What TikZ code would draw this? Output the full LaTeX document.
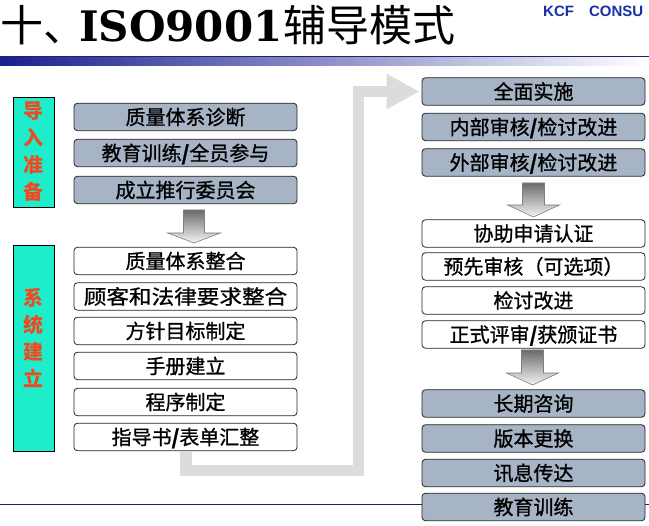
\documentclass[tikz,border=0pt]{standalone}
\usepackage{graphicx}
\usepackage{fontspec}
\setmainfont{Noto Sans CJK SC}
\newfontfamily\boxfont[FakeBold=0.9]{Noto Sans CJK SC}
\newfontfamily\isofont{DejaVu Serif}
\newfontfamily\kcffont{Liberation Sans}
\usetikzlibrary{arrows.meta,calc}
\definecolor{boxgray}{HTML}{A6B4C5}
\definecolor{aquabox}{HTML}{1EEDCB}
\definecolor{lblred}{HTML}{EE4A22}
\definecolor{navyline}{HTML}{1C2470}
\definecolor{barblue}{HTML}{1A1F90}
\definecolor{kcfblue}{HTML}{1B2FA5}
\definecolor{arrgray}{HTML}{DCDCDC}
\tikzset{
  stepbox/.style={draw=black!85, line width=0.8pt, rounded corners=3.5pt,
    minimum width=223pt, minimum height=27.5pt, inner sep=0pt,
    text height=16.6pt, text depth=1.4pt, font=\boxfont\fontsize{20}{24}\selectfont},
  graybox/.style={stepbox, fill=boxgray},
  whitebox/.style={stepbox, fill=white},
  sidebox/.style={draw=black, line width=0.8pt, fill=aquabox, minimum width=41pt, inner sep=0pt},
  sidelabel/.style={text=lblred, font=\fontsize{20}{27}\selectfont\bfseries, align=center, inner sep=0pt},
  bigarrow/.style={draw=arrgray, line width=11.5pt, -{Triangle[length=33pt,width=33pt]}, shorten >=2pt},
  gradarrow/.style={top color=black!58, bottom color=black!4, draw=black!50, line width=0.6pt},
}
\newcommand\grarrow[6]{%
  \shade[gradarrow] ({#1-#5},#2) -- ({#1+#5},#2) -- ({#1+#5},#3) -- ({#1+#6},#3)
     -- (#1,#4) -- ({#1-#6},#3) -- ({#1-#5},#3) -- cycle;}
\begin{document}
\begin{tikzpicture}[x=1pt,y=-1pt]
\useasboundingbox (0,0) rectangle (649,526);
\clip (0,0) rectangle (649,526);
\fill[white] (0,0) rectangle (649,526);

% title
\node[anchor=base west, inner sep=0pt] (title) at (0,42)
  {\fontsize{43}{43}\selectfont 十、\kern-7pt{\isofont\bfseries\fontsize{42}{42}\selectfont ISO9001}\kern1pt 辅导模式};
\node[anchor=base west, inner sep=0pt, text=kcfblue, font=\kcffont\bfseries\fontsize{15}{15}\selectfont] (kcf) at (543,17) {KCF\kern15pt CONSU};

% header bar
\shade[left color=barblue, right color=white] (0,57) rectangle (649,66);
\draw[navyline, line width=1.2pt] (0,56.5) -- (649,56.5);

% bottom line
\draw[navyline, line width=1pt] (0,505) -- (649,505);

% side boxes
\node[sidebox, minimum height=110pt] (S1) at (33.5,152) {};
\node[sidebox, minimum height=206pt] (S2) at (33.5,348) {};
\node[sidelabel] (A1) at (33.5,152) {导\\入\\准\\备};
\node[sidelabel] (A2) at (33.5,338) {系\\统\\建\\立};

% left column
\node[graybox] (L1) at (185.5,117) {质量体系诊断};
\node[graybox] (L2) at (185.5,153) {教育训练\textbf{/}全员参与};
\node[graybox] (L3) at (185.5,190) {成立推行委员会};
\node[whitebox] (L4) at (185.5,261) {质量体系整合};
\node[whitebox] (L5) at (185.5,296.5) {\scalebox{1.13}[1]{顾客和法律要求整合}};
\node[whitebox] (L6) at (185.5,331) {方针目标制定};
\node[whitebox] (L7) at (185.5,366) {手册建立};
\node[whitebox] (L8) at (185.5,402) {程序制定};
\node[whitebox] (L9) at (185.5,437) {指导书\textbf{/}表单汇整};

\coordinate (c1) at (186,470.5);
\coordinate (c2) at (358.5,470.5);
\coordinate (c3) at (358.5,91.5);

% right column
\node[graybox] (R1) at (533.5,91.5) {全面实施};
\node[graybox] (R2) at (533.5,127) {内部审核\textbf{/}检讨改进};
\node[graybox] (R3) at (533.5,162.5) {外部审核\textbf{/}检讨改进};
\node[whitebox] (R4) at (533.5,233.5) {协助申请认证};
\node[whitebox] (R5) at (533.5,266.5) {预先审核（可选项）};
\node[whitebox] (R6) at (533.5,300.5) {检讨改进};
\node[whitebox] (R7) at (533.5,334.5) {正式评审\textbf{/}获颁证书};
\node[graybox] (R8) at (533.5,403.5) {长期咨询};
\node[graybox] (R9) at (533.5,438.5) {版本更换};
\node[graybox] (R10) at (533.5,473) {讯息传达};
\node[graybox] (R11) at (533.5,507) {教育训练};

\draw[bigarrow] (L9.south -| c1) -- (c1) -- (c2) -- (c3) -- (R1.west);

% gradient arrows
\grarrow{194}{210}{233}{243}{10.5}{26.5}
\grarrow{533.5}{183}{205}{217}{11}{26}
\grarrow{532.5}{350}{373}{385}{11}{26}
\end{tikzpicture}
\end{document}
